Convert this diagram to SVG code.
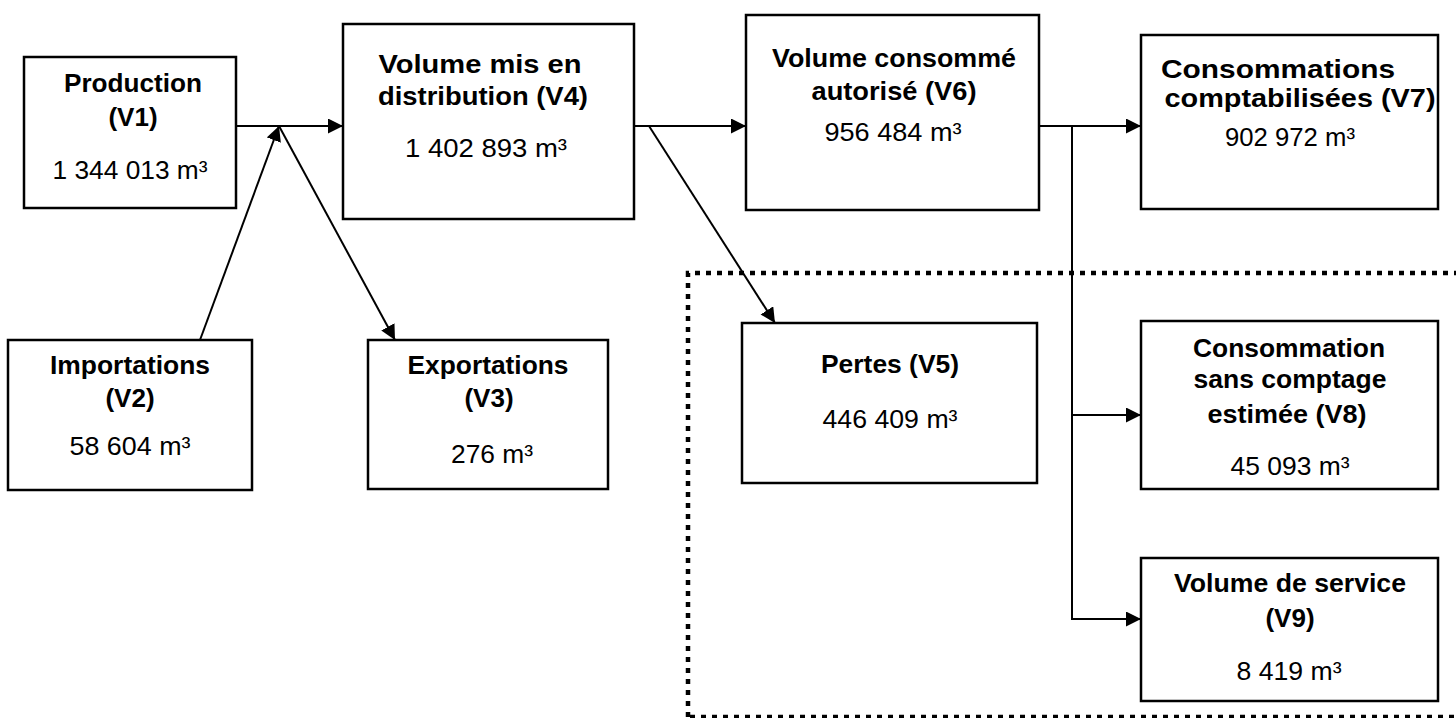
<svg xmlns="http://www.w3.org/2000/svg" width="1456" height="718" viewBox="0 0 1456 718">
<defs>
<style>
.box{fill:#fff;stroke:#000;stroke-width:2.5}
.t{font-family:"Liberation Sans",Arial,sans-serif;font-size:26px;font-weight:bold;text-anchor:middle;fill:#000}
.v{font-family:"Liberation Sans",Arial,sans-serif;font-size:26px;text-anchor:middle;fill:#000}
.c{stroke:#000;stroke-width:2;fill:none}
.a{marker-end:url(#arr)}
.dot{stroke:#000;stroke-width:4.5;fill:none;stroke-dasharray:5 6}
</style>
<marker id="arr" markerUnits="userSpaceOnUse" markerWidth="16" markerHeight="16" refX="15" refY="7.5" orient="auto">
<path d="M0,0 L15,7.5 L0,15 z" fill="#000"/>
</marker>
</defs>
<rect width="1456" height="718" fill="#fff"/>
<g id="loss-zone">
<path class="dot" d="M688,717 L688,273 L1456,273"/>
<path class="dot" d="M690,717 L1456,717"/>
</g>
<g id="connectors">
<line class="c a" x1="236" y1="126" x2="343" y2="126"/>
<line class="c a" x1="200" y1="340" x2="279" y2="126"/>
<line class="c a" x1="279" y1="126" x2="395" y2="340"/>
<line class="c a" x1="634" y1="126" x2="746" y2="126"/>
<line class="c a" x1="649" y1="126" x2="775" y2="323"/>
<line class="c a" x1="1039" y1="126" x2="1141" y2="126"/>
<line class="c" x1="1072" y1="126" x2="1072" y2="620"/>
<line class="c a" x1="1071" y1="415" x2="1141" y2="415"/>
<line class="c a" x1="1071" y1="619" x2="1141" y2="619"/>
</g>
<g id="v1">
<rect class="box" x="24" y="57" width="212" height="151"/>
<text class="t" x="133" y="92" textLength="138" lengthAdjust="spacingAndGlyphs">Production</text>
<text class="t" x="133" y="126">(V1)</text>
<text class="v" x="130" y="179" textLength="155" lengthAdjust="spacingAndGlyphs">1 344 013 m³</text>
</g>
<g id="v2">
<rect class="box" x="8" y="340" width="244" height="150"/>
<text class="t" x="130" y="374" textLength="160" lengthAdjust="spacingAndGlyphs">Importations</text>
<text class="t" x="130" y="407">(V2)</text>
<text class="v" x="130" y="455" textLength="121" lengthAdjust="spacingAndGlyphs">58 604 m³</text>
</g>
<g id="v3">
<rect class="box" x="368" y="340" width="240" height="149"/>
<text class="t" x="488" y="374" textLength="161" lengthAdjust="spacingAndGlyphs">Exportations</text>
<text class="t" x="489" y="407">(V3)</text>
<text class="v" x="492" y="463" textLength="82" lengthAdjust="spacingAndGlyphs">276 m³</text>
</g>
<g id="v4">
<rect class="box" x="343" y="24" width="291" height="195"/>
<text class="t" x="480" y="73" textLength="203" lengthAdjust="spacingAndGlyphs">Volume mis en</text>
<text class="t" x="483" y="105" textLength="210" lengthAdjust="spacingAndGlyphs">distribution (V4)</text>
<text class="v" x="486" y="157" textLength="162" lengthAdjust="spacingAndGlyphs">1 402 893 m³</text>
</g>
<g id="v6">
<rect class="box" x="746" y="15" width="293" height="195"/>
<text class="t" x="894" y="67" textLength="244" lengthAdjust="spacingAndGlyphs">Volume consommé</text>
<text class="t" x="894" y="100" textLength="165" lengthAdjust="spacingAndGlyphs">autorisé (V6)</text>
<text class="v" x="893" y="141" textLength="137" lengthAdjust="spacingAndGlyphs">956 484 m³</text>
</g>
<g id="v7">
<rect class="box" x="1141" y="35" width="297" height="174"/>
<text class="t" x="1278" y="78" textLength="234" lengthAdjust="spacingAndGlyphs">Consommations</text>
<text class="t" x="1300" y="107" textLength="271" lengthAdjust="spacingAndGlyphs">comptabilisées (V7)</text>
<text class="v" x="1290" y="146" textLength="130" lengthAdjust="spacingAndGlyphs">902 972 m³</text>
</g>
<g id="v5">
<rect class="box" x="742" y="323" width="295" height="160"/>
<text class="t" x="890" y="373" textLength="138" lengthAdjust="spacingAndGlyphs">Pertes (V5)</text>
<text class="v" x="890" y="428" textLength="135" lengthAdjust="spacingAndGlyphs">446 409 m³</text>
</g>
<g id="v8">
<rect class="box" x="1141" y="321" width="297" height="168"/>
<text class="t" x="1289" y="357" textLength="192" lengthAdjust="spacingAndGlyphs">Consommation</text>
<text class="t" x="1290" y="388" textLength="193" lengthAdjust="spacingAndGlyphs">sans comptage</text>
<text class="t" x="1287" y="423" textLength="159" lengthAdjust="spacingAndGlyphs">estimée (V8)</text>
<text class="v" x="1290" y="475" textLength="119" lengthAdjust="spacingAndGlyphs">45 093 m³</text>
</g>
<g id="v9">
<rect class="box" x="1141" y="558" width="297" height="143"/>
<text class="t" x="1290" y="592" textLength="232" lengthAdjust="spacingAndGlyphs">Volume de service</text>
<text class="t" x="1290" y="627">(V9)</text>
<text class="v" x="1289" y="680" textLength="105" lengthAdjust="spacingAndGlyphs">8 419 m³</text>
</g>
</svg>
